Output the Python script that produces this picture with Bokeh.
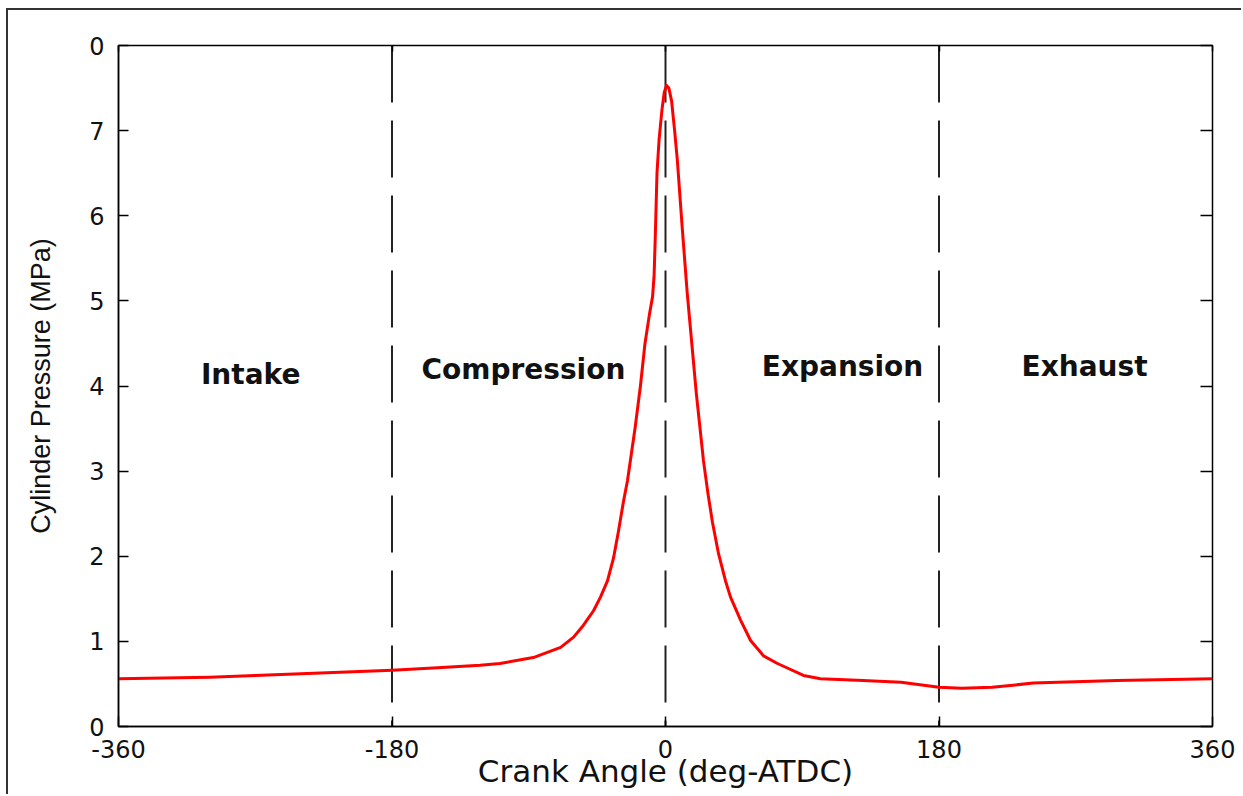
from bokeh.plotting import figure
from bokeh.models import (FixedTicker, LinearAxis, Range1d, ColumnDataSource, CustomJSTickFormatter)
from bokeh.core.properties import value
from bokeh.embed import file_html
from bokeh.resources import INLINE

# ---- data ----
crank_angle = [-360, -330, -300, -270, -240, -210, -180, -150, -122, -109, -87, -69, -60.5, -54,
               -47.4, -42.8, -38.2, -34.2, -30.9, -27.6, -25, -20, -16.5, -13.5, -10.5, -8.5,
               -7.5, -6.8, -5.6, -4.2, -2.3, -0.8, 0.7, 2.2, 4.0, 6.0, 7.8, 11.0, 14.3, 20.3,
               25.0, 28.0, 30.9, 34.9, 39.5, 42.8, 49.4, 56, 64.5, 73.7, 90.8, 102, 130, 155,
               180, 195, 215, 242, 297, 360]
pressure = [0.56, 0.57, 0.58, 0.60, 0.62, 0.64, 0.66, 0.69, 0.72, 0.74, 0.81, 0.93, 1.05, 1.19,
            1.36, 1.52, 1.71, 1.98, 2.30, 2.65, 2.89, 3.51, 4.00, 4.50, 4.85, 5.05,
            5.30, 5.71, 6.50, 6.90, 7.25, 7.45, 7.53, 7.50, 7.35, 7.00, 6.65, 5.86, 5.09, 3.91,
            3.12, 2.73, 2.40, 2.03, 1.71, 1.52, 1.25, 1.01, 0.83, 0.74, 0.60, 0.56, 0.54, 0.52,
            0.46, 0.45, 0.46, 0.51, 0.54, 0.56]
stroke_bounds = [-180, 0, 180]
stroke_names = ["Intake", "Compression", "Expansion", "Exhaust"]
stroke_x = [-273, -93.5, 116.5, 275.8]
stroke_y = [4.13, 4.19, 4.23, 4.23]
x_ticks = [-360, -180, 0, 180, 360]
x_tick_labels = {-360: "-360", -180: "-180", 0: "0", 180: "180", 360: "360"}
y_ticks = [0, 1, 2, 3, 4, 5, 6, 7, 8]
y_tick_labels = {8: "0"}

p = figure(width=1235, height=786, output_backend="svg", toolbar_location=None,
           x_range=Range1d(-360, 360), y_range=Range1d(0, 8),
           min_border_left=110, min_border_right=31, min_border_top=35, min_border_bottom=70)
p.styles = {"margin-left": "6px", "margin-top": "8px",
            "border-left": "2px solid #333333", "border-top": "2px solid #333333"}
p.grid.visible = False
p.outline_line_color = "black"
p.outline_line_width = 1.5
p.background_fill_color = "white"
p.border_fill_color = "white"

ax = p.xaxis[0]
ax.ticker = FixedTicker(ticks=x_ticks)
ax.major_label_overrides = x_tick_labels
ay = p.yaxis[0]
ay.ticker = FixedTicker(ticks=y_ticks)
ay.major_label_overrides = y_tick_labels
for a in (ax, ay):
    a.major_tick_in = 10
    a.major_tick_out = 0
    a.minor_tick_line_color = None
    a.axis_line_width = 1.5
    a.major_tick_line_width = 1.5
    a.major_label_text_font = "DejaVu Sans"
    a.major_label_text_font_size = "24px"
    a.major_label_text_color = "#111111"
    a.axis_label_text_font_style = "normal"
    a.axis_label_text_color = "#111111"
ax.major_label_standoff = 13
ay.major_label_standoff = 14
ax.axis_label = "Crank Angle (deg-ATDC)"
ax.axis_label_text_font = "DejaVu Sans"
ax.axis_label_text_font_size = "31px"
ax.axis_label_standoff = -8
ay.axis_label = "Cylinder Pressure (MPa)"
ay.axis_label_text_font = "Liberation Sans"
ay.axis_label_text_font_size = "27px"
ay.axis_label_standoff = 30

# box-style ticks on top and right (no labels)
blank = CustomJSTickFormatter(code="return '';")
top = LinearAxis(ticker=FixedTicker(ticks=x_ticks), formatter=blank, major_tick_in=6,
                 major_tick_out=0, minor_tick_line_color=None, axis_line_color=None,
                 major_tick_line_width=1.5, major_label_standoff=0)
right = LinearAxis(ticker=FixedTicker(ticks=y_ticks), formatter=blank, major_tick_in=12,
                   major_tick_out=0, minor_tick_line_color=None, axis_line_color=None,
                   major_tick_line_width=1.5, major_label_standoff=0)
p.add_layout(top, "above")
p.add_layout(right, "right")

# stroke boundaries
for b in stroke_bounds:
    p.line([b, b], [8, 0], line_color="#222222", line_width=2, line_dash="57 18")

# pressure curve
p.line(crank_angle, pressure, line_color="#ff0000", line_width=3, line_join="round")

# stroke labels
src = ColumnDataSource(dict(x=stroke_x, y=stroke_y, t=stroke_names))
p.text(x="x", y="y", text="t", source=src, text_font=value("DejaVu Sans"),
       text_font_size="28px", text_font_style="bold", text_color="#111111",
       text_align="center", text_baseline="middle")

open("out.html", "w").write(file_html(p, INLINE))
